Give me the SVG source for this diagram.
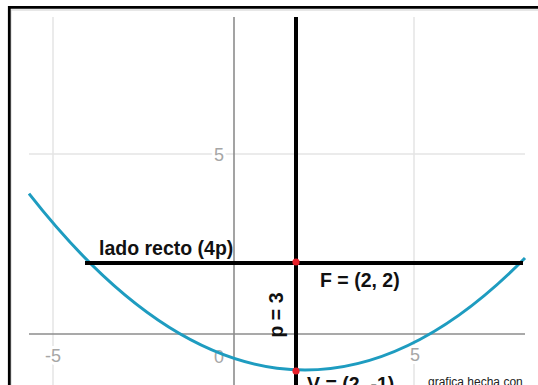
<svg xmlns="http://www.w3.org/2000/svg" width="538" height="385" viewBox="0 0 538 385">
  <style>
    .grid { stroke: #e4e4e4; stroke-width: 1.5; fill: none; }
    .axis { stroke: #8c8c8c; stroke-width: 1.6; fill: none; }
    .tick { font-family: "Liberation Sans", Arial, sans-serif; font-size: 18px; fill: #a6a6a6; stroke: #ffffff; stroke-width: 6; paint-order: stroke; stroke-linejoin: round; }
    .curve { stroke: #1e9cc0; stroke-width: 3; fill: none; }
    .bar { stroke: #000000; stroke-width: 4; fill: none; }
    .dot { fill: #e8202a; }
    .lbl { font-family: "Liberation Sans", Arial, sans-serif; font-size: 19.5px; font-weight: bold; fill: #111111; }
    .note { font-family: "Liberation Sans", Arial, sans-serif; font-size: 12px; fill: #222222; }
  </style>
  <rect x="0" y="0" width="538" height="385" fill="#ffffff"/>
  <g id="frame">
    <path d="M11 385 V10 H538" stroke="#cfcfcf" stroke-width="1" fill="none"/>
    <path d="M9.3 385 V7.3 H538" stroke="#000000" stroke-width="2.8" fill="none"/>
  </g>
  <g id="grid">
    <line class="grid" x1="53" y1="17" x2="53" y2="385"/>
    <line class="grid" x1="414" y1="17" x2="414" y2="385"/>
    <line class="grid" x1="29" y1="154" x2="525" y2="154"/>
  </g>
  <g id="axes">
    <line class="axis" x1="234" y1="17" x2="234" y2="385"/>
    <line class="axis" x1="29" y1="334" x2="525" y2="334"/>
  </g>
  <g id="tick-labels">
    <text class="tick" x="224" y="161" text-anchor="end">5</text>
    <text class="tick" x="53" y="362" text-anchor="middle">-5</text>
    <text class="tick" x="224" y="363" text-anchor="end">0</text>
    <text class="tick" x="415" y="361" text-anchor="middle">5</text>
  </g>
  <g id="parabola">
    <path class="curve" d="M29 193.67 Q277 510.55 525 257.96"/>
  </g>
  <g id="connectors">
    <line id="axis-of-symmetry" class="bar" x1="296" y1="17" x2="296" y2="385"/>
    <line id="latus-rectum" class="bar" x1="85" y1="263" x2="523" y2="263"/>
  </g>
  <g id="focus">
    <circle class="dot" cx="296" cy="262" r="3.6"/>
    <text class="lbl" x="320" y="287">F = (2, 2)</text>
  </g>
  <g id="vertex">
    <circle class="dot" cx="296" cy="371" r="3.6"/>
    <text class="lbl" x="307" y="391">V = (2, -1)</text>
  </g>
  <g id="latus-label">
    <text class="lbl" x="99" y="255">lado recto (4p)</text>
  </g>
  <g id="p-label">
    <text class="lbl" transform="translate(283,315) rotate(-90)" text-anchor="middle">p = 3</text>
  </g>
  <g id="credit">
    <text class="note" x="428" y="386">grafica hecha con</text>
  </g>
</svg>
